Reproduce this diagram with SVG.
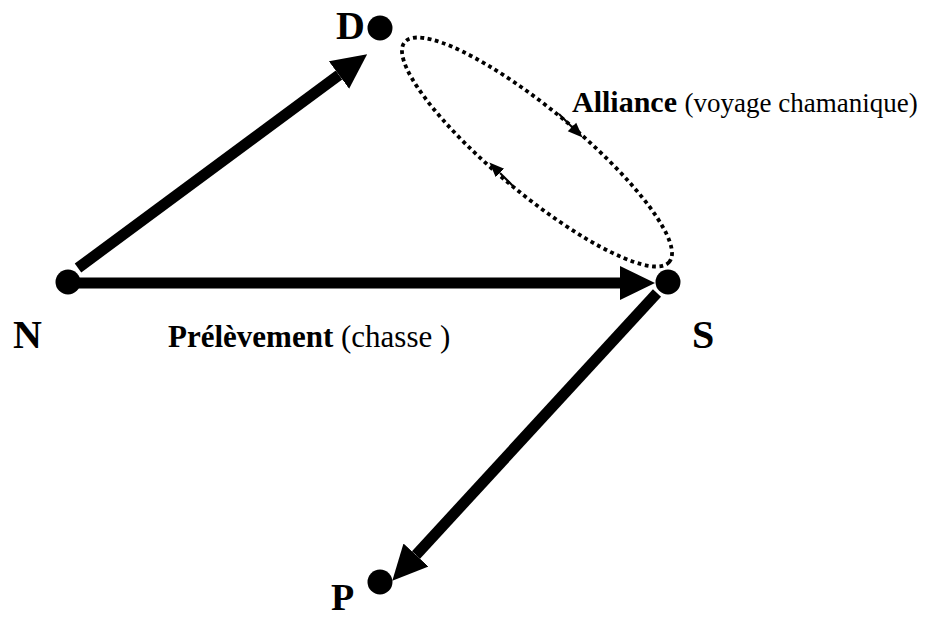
<svg xmlns="http://www.w3.org/2000/svg" width="926" height="619" viewBox="0 0 926 619">
<style>
.lbl{font-family:"Liberation Serif","Times New Roman",serif;fill:#000}
.big{font-size:40px;font-weight:bold}
.b{font-weight:bold}
.main{stroke:#000;stroke-width:11;fill:none;marker-end:url(#head)}
.small{stroke:#000;stroke-width:2;fill:none;marker-end:url(#shead)}
.dot{fill:#000}
</style>
<defs>
<marker id="head" markerUnits="userSpaceOnUse" markerWidth="36" markerHeight="36" viewBox="0 0 36 36" refX="0" refY="18" orient="auto">
<path d="M0,1 L35,18 L0,35 z" fill="#000"/>
</marker>
<marker id="shead" markerUnits="userSpaceOnUse" markerWidth="16" markerHeight="16" viewBox="0 0 16 16" refX="0" refY="8" orient="auto">
<path d="M0,2 L15,8 L0,14 z" fill="#000"/>
</marker>
</defs>
<rect width="926" height="619" fill="#fff"/>
<g id="connectors">
<line class="main" x1="68" y1="283" x2="620" y2="283"/>
<line class="main" x1="78" y1="268" x2="339" y2="75"/>
<line class="main" x1="657" y1="293" x2="416" y2="555"/>
<ellipse cx="537" cy="152" rx="172" ry="42" transform="rotate(39.7 537 152)" fill="none" stroke="#000" stroke-width="3.8" stroke-dasharray="3.8 3.6"/>
<line class="small" x1="559" y1="114" x2="572" y2="127"/>
<line class="small" x1="513" y1="186" x2="500" y2="173"/>
</g>
<g id="node-N">
<circle class="dot" cx="68" cy="282" r="12.5"/>
<text class="lbl big" x="13" y="348">N</text>
</g>
<g id="node-D">
<circle class="dot" cx="380" cy="28" r="12.5"/>
<text class="lbl big" x="336" y="39">D</text>
</g>
<g id="node-S">
<circle class="dot" cx="668" cy="282" r="12.5"/>
<text class="lbl big" x="692" y="348">S</text>
</g>
<g id="node-P">
<circle class="dot" cx="380" cy="582" r="12.5"/>
<text class="lbl" x="331" y="610" font-size="38" font-weight="bold">P</text>
</g>
<g id="labels">
<text class="lbl" x="168" y="347" font-size="31"><tspan class="b">Prélèvement</tspan> (chasse )</text>
<text class="lbl" x="572" y="112" font-size="30"><tspan class="b">Alliance</tspan> <tspan font-size="27">(voyage chamanique)</tspan></text>
</g>
</svg>
